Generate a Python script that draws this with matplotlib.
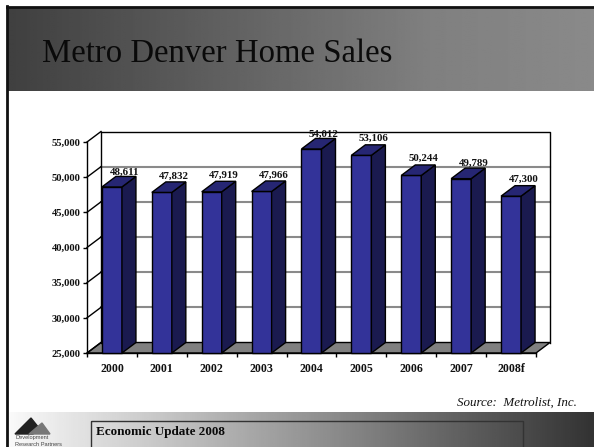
import numpy as np
import matplotlib
matplotlib.use('Agg')
import matplotlib.pyplot as plt
from matplotlib.patches import Polygon, Rectangle

W, H = 594, 447

years = ['2000', '2001', '2002', '2003', '2004', '2005', '2006', '2007', '2008f']
sales = [48611, 47832, 47919, 47966, 54012, 53106, 50244, 49789, 47300]
yticks = [25000, 30000, 35000, 40000, 45000, 50000, 55000]

plt.rcParams['font.family'] = ['Liberation Serif', 'DejaVu Serif']

fig = plt.figure(figsize=(W / 100, H / 100), dpi=100, facecolor='white')

# page layer in pixel coordinates
page = fig.add_axes([0, 0, 1, 1])
page.axis('off')


def gradient(x0, x1, y0, y1, stops, z=1):
    g = np.interp(np.linspace(0, 1, 256), stops[0], stops[1]).reshape(1, -1)
    page.imshow(g, extent=[x0, x1, y1, y0], cmap='gray', vmin=0, vmax=1,
                aspect='auto', zorder=z, interpolation='bilinear')


gradient(8, W, 8, 91, ([0, 0.72, 1], [0.25, 0.5, 0.54]))
page.plot([7, W], [7, 7], color='#111111', lw=2, zorder=3)
page.plot([7, 7], [6, H], color='#111111', lw=2, zorder=3)
page.text(42, 61.5, 'Metro Denver Home Sales', fontsize=23.6, color='#0a0a0a', va='baseline', zorder=4)

# footer
gradient(8, W, 412, H, ([0, 1], [0.98, 0.2]))
page.add_patch(Rectangle((90.5, 420.5), 432, 30, fill=False, ec='#333333', lw=1, zorder=3))
page.text(96, 431.7, 'Economic Update 2008', fontsize=9.45, fontweight='bold', color='#0a0a0a', va='center', zorder=4)
page.text(577, 403, 'Source:  Metrolist, Inc.', fontsize=9.4, style='italic', color='#111111',
          ha='right', va='center', zorder=4)

# logo
page.add_patch(Polygon([(15, 434), (31, 418), (39, 428), (33, 434)], color='#222222', zorder=3))
page.add_patch(Polygon([(29, 434), (42, 423), (50, 434)], color='#777777', zorder=3))
page.text(15, 438, 'Development', fontsize=4.1, family=['Liberation Sans'], color='#444444', va='center', zorder=4)
page.text(15, 444, 'Research Partners', fontsize=4.1, family=['Liberation Sans'], color='#444444', va='center', zorder=4)
page.set_xlim(0, W)
page.set_ylim(H, 0)

# chart: axes is the front plane of the 3d box
x0, x1, ytop, ybot = 87, 536, 142, 353
ax = fig.add_axes([x0 / W, 1 - ybot / H, (x1 - x0) / W, (ybot - ytop) / H])
ax.patch.set_alpha(0)
ax.set_xlim(0, len(years))
ax.set_ylim(25000, 55000)
dx = 14 / ((x1 - x0) / len(years))
dy = 10.5 / ((ybot - ytop) / 30000)
xmax = len(years)

# floor
ax.add_patch(Polygon([(0, 25000), (dx, 25000 + dy), (xmax + dx, 25000 + dy), (xmax, 25000)],
                     fc='#808080', ec='black', lw=1, clip_on=False, zorder=1))
# back wall gridlines
for t in yticks[1:-1]:
    ax.plot([dx, xmax + dx], [t + dy, t + dy], color='#8a8a8a', lw=1.5, clip_on=False, zorder=1)
for t in yticks:
    ax.plot([0, dx], [t, t + dy], color='black', lw=1, clip_on=False, zorder=1)
ax.plot([dx, dx], [25000 + dy, 55000 + dy], color='black', lw=1, clip_on=False, zorder=1)
ax.plot([dx, xmax + dx, xmax + dx], [55000 + dy, 55000 + dy, 25000 + dy], color='black', lw=1,
        clip_on=False, zorder=1)

# bars
bw = 20 / ((x1 - x0) / len(years))
xs = np.arange(len(years)) + 0.5
lift = [4.5, 6, 6, 6, 4, 7, 7, 4.5, 6.5]  # label height above the bar top, px
for i, (x, v) in enumerate(zip(xs, sales)):
    l, r = x - bw / 2, x + bw / 2
    z = 3 + i
    ax.bar(x, v - 25000, bw, bottom=25000, color='#333399', edgecolor='black', lw=1, clip_on=False, zorder=z)
    ax.add_patch(Polygon([(r, 25000), (r + dx, 25000 + dy), (r + dx, v + dy), (r, v)],
                         fc='#1a1a4f', ec='black', lw=1, clip_on=False, zorder=z))
    ax.add_patch(Polygon([(l, v), (l + dx, v + dy), (r + dx, v + dy), (r, v)],
                         fc='#262673', ec='black', lw=1, clip_on=False, zorder=z))
    ax.annotate(f'{v:,}', (x, v + dy), xytext=(12.5 * 0.72, lift[i] * 0.72), textcoords='offset points',
                ha='center', va='center', fontsize=7.8, fontweight='bold', color='#111111',
                annotation_clip=False, zorder=20)

ax.spines['top'].set_visible(False)
ax.spines['right'].set_visible(False)
ax.spines['left'].set_linewidth(1)
ax.spines['bottom'].set_linewidth(1)
ax.spines['bottom'].set_zorder(2)
ax.set_yticks(yticks)
ax.set_yticklabels([f'{t:,}' for t in yticks], fontsize=7.6, fontweight='bold', color='#111111')
ax.set_xticks(np.arange(len(years) + 1))
ax.set_xticklabels([])
ax.set_xticks(xs, minor=True)
ax.set_xticklabels(years, minor=True, fontsize=8.6, fontweight='bold', color='#111111')
ax.tick_params(axis='x', which='minor', length=0, pad=7.5)
ax.tick_params(axis='both', which='major', length=3, width=1, direction='out', pad=1.5)

fig.savefig('out.png', dpi=100)
